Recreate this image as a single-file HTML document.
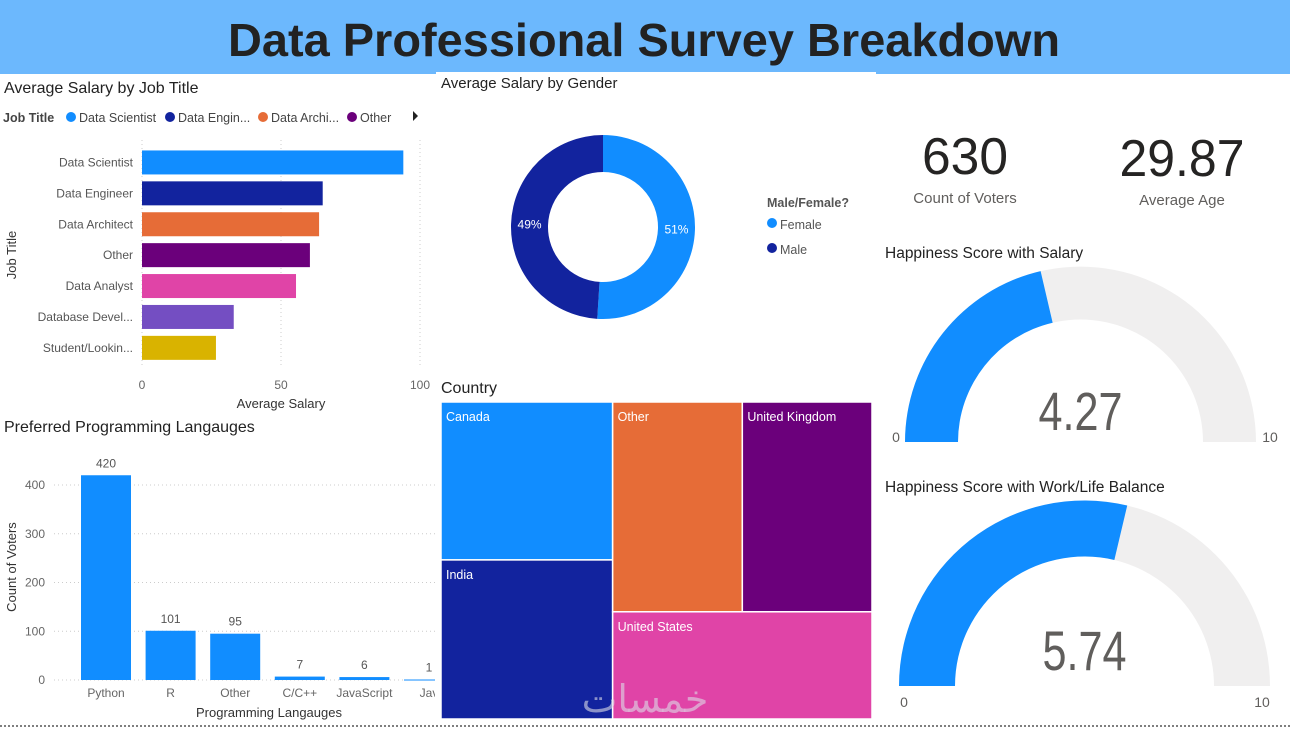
<!DOCTYPE html>
<html><head><meta charset="utf-8"><style>
html,body{margin:0;padding:0;background:#fff;}
svg{display:block;font-family:"Liberation Sans","DejaVu Sans",sans-serif;}
</style></head><body>
<svg id="dash" width="1290" height="731" viewBox="0 0 1290 731" xmlns="http://www.w3.org/2000/svg">
<rect x="0" y="0" width="1290" height="731" fill="#fff"/>
<rect x="0" y="0" width="1290" height="74" fill="#6cb8fd"/>
<rect x="436" y="72" width="440" height="4" fill="#fff"/>
<text x="644" y="56" text-anchor="middle" font-size="46" font-weight="bold" fill="#222" textLength="832" lengthAdjust="spacingAndGlyphs">Data Professional Survey Breakdown</text>

<!-- Job title chart -->
<text x="4" y="93" font-size="16" fill="#222">Average Salary by Job Title</text>
<g font-size="12.5">
<text x="3" y="122" font-weight="bold" fill="#444">Job Title</text>
<circle cx="71" cy="117" r="5" fill="#118dff"/><text x="79" y="122" fill="#444">Data Scientist</text>
<circle cx="170" cy="117" r="5" fill="#12239e"/><text x="178" y="122" fill="#444">Data Engin...</text>
<circle cx="263" cy="117" r="5" fill="#e66c37"/><text x="271" y="122" fill="#444">Data Archi...</text>
<circle cx="352" cy="117" r="5" fill="#6b007b"/><text x="360" y="122" fill="#444">Other</text>
<path d="M413 111 L418 116 L413 121 Z" fill="#222"/>
</g>
<g id="jobChart"></g>
<text x="16" y="255" font-size="13" fill="#333" transform="rotate(-90 16 255)" text-anchor="middle">Job Title</text>
<text x="281" y="408" font-size="13" fill="#333" text-anchor="middle">Average Salary</text>

<!-- Programming chart -->
<text x="4" y="432" font-size="16" fill="#222">Preferred Programming Langauges</text>
<g id="langChart"></g>
<text x="16" y="567" font-size="13" fill="#333" transform="rotate(-90 16 567)" text-anchor="middle">Count of Voters</text>
<text x="269" y="717" font-size="13" fill="#333" text-anchor="middle">Programming Langauges</text>

<!-- Gender donut -->
<text x="441" y="88" font-size="15" fill="#222">Average Salary by Gender</text>
<g id="donut"></g>
<g font-size="12.5">
<text x="767" y="207" font-weight="bold" fill="#555">Male/Female?</text>
<circle cx="772" cy="223" r="5" fill="#118dff"/><text x="780" y="229" fill="#555">Female</text>
<circle cx="772" cy="248" r="5" fill="#12239e"/><text x="780" y="254" fill="#555">Male</text>
</g>

<!-- Treemap -->
<text x="441" y="393" font-size="16" fill="#222">Country</text>
<g id="treemap"></g>

<!-- KPIs -->
<text x="965" y="174" font-size="52" fill="#252423" text-anchor="middle" textLength="86" lengthAdjust="spacingAndGlyphs">630</text>
<text x="965" y="203" font-size="15" fill="#605e5c" text-anchor="middle">Count of Voters</text>
<text x="1182" y="176" font-size="52" fill="#252423" text-anchor="middle" textLength="125" lengthAdjust="spacingAndGlyphs">29.87</text>
<text x="1182" y="205" font-size="15" fill="#605e5c" text-anchor="middle">Average Age</text>

<text x="885" y="258" font-size="15.5" fill="#222">Happiness Score with Salary</text>
<text x="885" y="492" font-size="15.5" fill="#222">Happiness Score with Work/Life Balance</text>
<g id="gauges"></g>

<text x="645" y="712" font-size="38" fill="#dcdce6" fill-opacity="0.6" text-anchor="middle" font-family="DejaVu Sans, sans-serif">خمسات</text>
<line x1="0" y1="726" x2="1290" y2="726" stroke="#555" stroke-width="1.5" stroke-dasharray="2,2"/>
</svg>
<script>
const NS="http://www.w3.org/2000/svg";
// Job chart data
const jobTitles=["Data Scientist","Data Engineer","Data Architect","Other","Data Analyst","Database Devel...","Student/Lookin..."];
const jobSalary=[94,65,63.7,60.4,55.4,33,26.6];
const jobColors=["#118dff","#12239e","#e66c37","#6b007b","#e044a7","#744ec2","#d9b300"];
const jobTicks=[0,50,100];
// Language chart data
const langNames=["Python","R","Other","C/C++","JavaScript","Jav"];
const langCounts=[420,101,95,7,6,1];
const langTicks=[0,100,200,300,400];
// Gender data
const genderNames=["Female","Male"];
const genderShare=[51,49];
// Country treemap data
const countryNames=["Canada","India","Other","United Kingdom","United States"];
const countryValues=[27,27.2,27.1,27.1,27.7];
// Gauges
const gaugeValues=[4.27,5.74];
const gaugeMax=[10,10];

function el(tag,attrs,parent){const e=document.createElementNS(NS,tag);for(const k in attrs)e.setAttribute(k,attrs[k]);parent.appendChild(e);return e;}

// Job bar chart
(function(){
 const g=document.getElementById('jobChart');
 const x0=142,x1=420,top=147,step=30.9,bh=24;
 const xs=v=>x0+(v/100)*(x1-x0);
 jobTicks.forEach(t=>{
  const l=el('line',{x1:xs(t),y1:140,x2:xs(t),y2:365,stroke:'#ccc','stroke-dasharray':'1,3'},g);
  
  
  const tx=el('text',{x:xs(t),y:389,'font-size':12,fill:'#666','text-anchor':'middle'},g);tx.textContent=t;
  
  
 });
 jobTitles.forEach((n,i)=>{
  const y=top+i*step+(step-bh)/2;
  const r=el('rect',{x:x0,y:y,width:xs(jobSalary[i])-x0,height:bh,fill:jobColors[i]},g);
  
  
  const t=el('text',{x:133,y:y+bh/2+4,'font-size':12,fill:'#555','text-anchor':'end'},g);t.textContent=n;
  
  
 });
})();

// Language column chart
(function(){
 const g=document.getElementById('langChart');
 const y0=680,ppu=(680-485)/400,xStart=81,step=64.6,bw=50,xEnd=435;
 const ys=v=>y0-v*ppu;
 const cp=el('clipPath',{id:'langClip'},g);el('rect',{x:50,y:440,width:xEnd-50,height:260},cp);
 langTicks.forEach(t=>{
  const l=el('line',{x1:54,y1:ys(t),x2:xEnd,y2:ys(t),stroke:'#ccc','stroke-dasharray':'1,3'},g);
  
  
  const tx=el('text',{x:45,y:ys(t)+4,'font-size':12,fill:'#666','text-anchor':'end'},g);tx.textContent=t;
  
  
 });
 const bars=el('g',{'clip-path':'url(#langClip)'},g);
 langNames.forEach((n,i)=>{
  const x=xStart+i*step;
  const r=el('rect',{x:x,y:ys(langCounts[i]),width:bw,height:Math.max(1,langCounts[i]*ppu),fill:'#118dff'},bars);
  
  
  const v=el('text',{x:x+bw/2,y:ys(langCounts[i])-8,'font-size':12,fill:'#555','text-anchor':'middle'},bars);v.textContent=langCounts[i];
  
  
  const t=el('text',{x:x+bw/2,y:697,'font-size':12,fill:'#666','text-anchor':'middle'},bars);t.textContent=n;
  
  
 });
})();

function arcPath(cx,cy,r0,r1,a0,a1){ // angles in radians, 0 = up, clockwise
 const p=(r,a)=>[cx+r*Math.sin(a),cy-r*Math.cos(a)];
 const large=(a1-a0)>Math.PI?1:0;
 const [x1,y1]=p(r1,a0),[x2,y2]=p(r1,a1),[x3,y3]=p(r0,a1),[x4,y4]=p(r0,a0);
 return `M${x1},${y1} A${r1},${r1} 0 ${large} 1 ${x2},${y2} L${x3},${y3} A${r0},${r0} 0 ${large} 0 ${x4},${y4} Z`;
}

// Donut
(function(){
 const g=document.getElementById('donut');
 const cx=603,cy=227,ro=92,ri=55,cols=["#118dff","#12239e"];
 const tot=genderShare.reduce((a,b)=>a+b,0);let a=0;
 genderShare.forEach((v,i)=>{
  const a1=a+v/tot*2*Math.PI;
  const p=el('path',{d:arcPath(cx,cy,ri,ro,a,a1),fill:cols[i]},g);
  
  
  const m=(a+a1)/2,rm=(ro+ri)/2;
  const t=el('text',{x:cx+rm*Math.sin(m),y:cy-rm*Math.cos(m)+4,'font-size':12,fill:'#fff','text-anchor':'middle'},g);t.textContent=v+'%';
  
  
  a=a1;
 });
})();

// Treemap
(function(){
 const g=document.getElementById('treemap');
 const X=441,Y=402,W=431,H=317;
 const cols=["#118dff","#12239e","#e66c37","#6b007b","#e044a7"];
 const tot=countryValues.reduce((a,b)=>a+b,0);
 const [c,ind,o,uk,us]=countryValues;
 const w1=(c+ind)/tot*W, h1=c/(c+ind)*H;
 const rw=W-w1, ht=(o+uk)/(o+uk+us)*H, wo=o/(o+uk)*rw;
 const rects=[[X,Y,w1,h1],[X,Y+h1,w1,H-h1],[X+w1,Y,wo,ht],[X+w1+wo,Y,rw-wo,ht],[X+w1,Y+ht,rw,H-ht]];
 rects.forEach((r,i)=>{
  const e=el('rect',{x:r[0],y:r[1],width:r[2],height:r[3],fill:cols[i],stroke:'#fff','stroke-width':1.5},g);
  
  
  const t=el('text',{x:r[0]+5,y:r[1]+19,'font-size':12.5,fill:'#fff'},g);t.textContent=countryNames[i];
  
  
 });
})();

// Gauges
(function(){
 const g=document.getElementById('gauges');
 const specs=[{cx:1080.5,cy:442,ro:175.5,ri:122.5,lx0:896,lx1:1270,ly:442,fs:54,by:430},{cx:1084.5,cy:686,ro:185.5,ri:129.5,lx0:904,lx1:1262,ly:707,fs:56,by:670}];
 gaugeValues.forEach((v,i)=>{
  const s=specs[i];const start=-Math.PI/2;
  const bg=el('path',{d:arcPath(s.cx,s.cy,s.ri,s.ro,start,Math.PI/2),fill:'#f0efef'},g);
  
  
  const fg=el('path',{d:arcPath(s.cx,s.cy,s.ri,s.ro,start,start+Math.PI*v/gaugeMax[i]),fill:'#118dff'},g);
  
  
  const t=el('text',{x:s.cx,y:s.by,'font-size':s.fs,fill:'#605e5c','text-anchor':'middle',textLength:84,lengthAdjust:'spacingAndGlyphs'},g);t.textContent=v.toFixed(2);
  
  
  const a=el('text',{x:s.lx0,y:s.ly,'font-size':14,fill:'#605e5c','text-anchor':'middle'},g);a.textContent='0';
  
  
  const b=el('text',{x:s.lx1,y:s.ly,'font-size':14,fill:'#605e5c','text-anchor':'middle'},g);b.textContent=gaugeMax[i];
  
  
 });
})();
</script>
</body></html>
